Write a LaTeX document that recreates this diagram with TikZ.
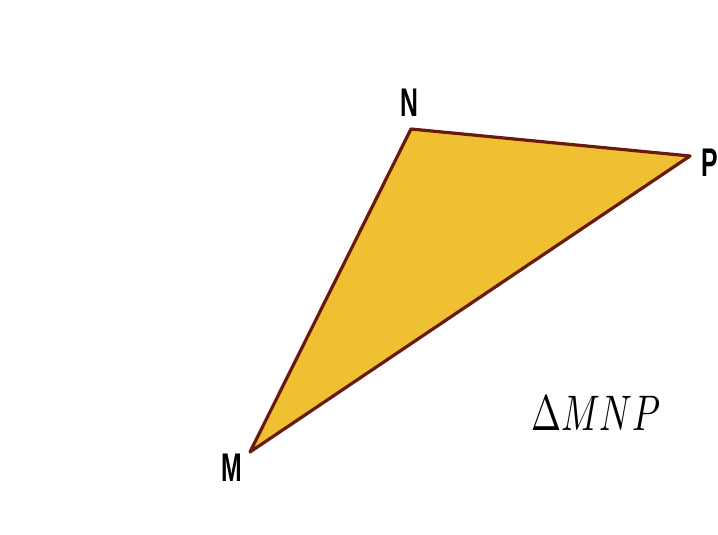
\documentclass[tikz,border=0pt]{standalone}
\usepackage{fontspec}
\newfontfamily\labelfont{Liberation Sans}
\usepackage{tikz}
\usetikzlibrary{positioning}
\definecolor{triFill}{HTML}{EEC032}
\definecolor{triEdge}{HTML}{6A1A0C}
\tikzset{vlabel/.style={font=\labelfont\bfseries\fontsize{40}{40}\selectfont, xscale=0.62, inner sep=0pt}}

\begin{document}
\begin{tikzpicture}[x=1pt,y=-1pt]
\useasboundingbox[fill=white] (0,0) rectangle (718,535);
\coordinate (M) at (250,452);
\coordinate (N) at (411,129);
\coordinate (P) at (690,156);
\draw[triEdge, line width=3.2pt, line join=round, fill=triFill] (M) -- (N) -- (P) -- cycle;
\node[vlabel] (lN) at (409,103) {N};
\node[vlabel] (lP) at (710,163) {P};
\node[vlabel] (lM) at (232,468) {M};
\node[inner sep=0pt] (name) at (596,413) {\scalebox{3.6}[5]{$\Delta MNP$}};
\end{tikzpicture}
\end{document}
